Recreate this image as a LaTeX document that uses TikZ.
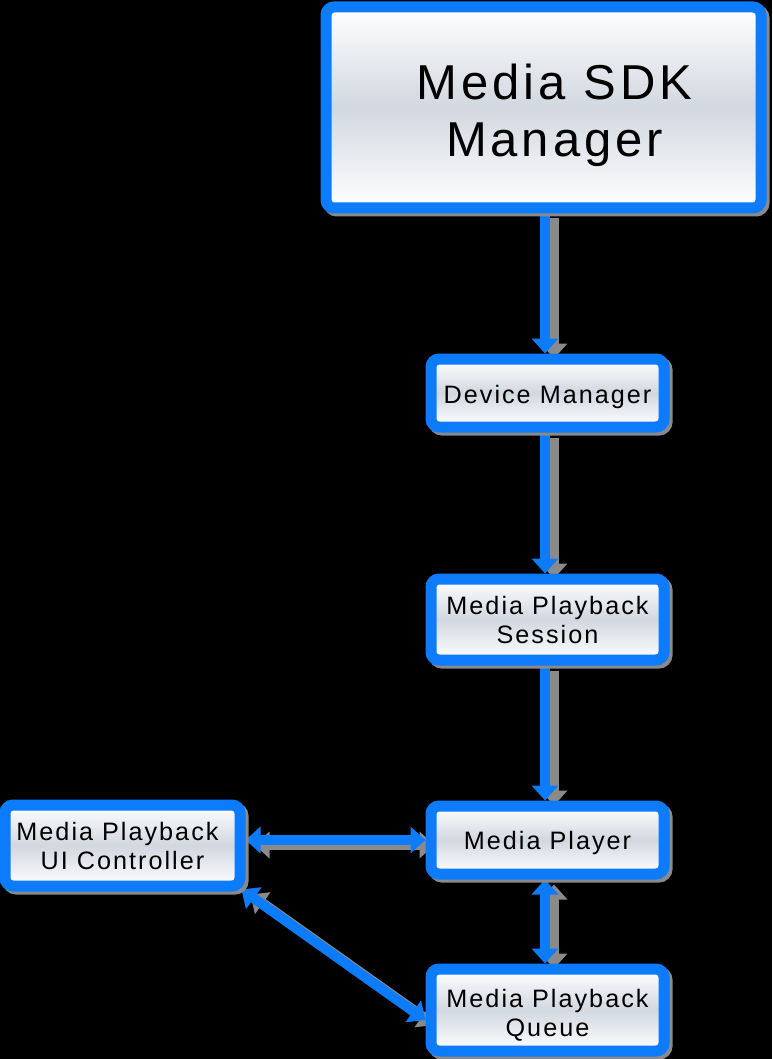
\documentclass[tikz,border=0pt]{standalone}
\usepackage{fontspec}
\setmainfont{Liberation Sans}[LetterSpace=8]
\usetikzlibrary{arrows.meta,positioning,shadows}
\definecolor{linkblue}{RGB}{12,124,252}
\definecolor{shadegray}{RGB}{210,216,224}
\definecolor{shadowgray}{RGB}{138,138,138}
\newcommand{\boxsize}{\fontsize{25.2}{29}\selectfont}
\newcommand{\topsize}{\fontsize{49}{57}\selectfont}
\pgfdeclarelayer{bglayer}
\pgfdeclarelayer{edgelayer}
\pgfsetlayers{bglayer,edgelayer,main}
\tikzset{
  box/.style={draw=linkblue, line width=11pt, rounded corners=8pt,
    top color=white, bottom color=white, middle color=shadegray,
    general shadow={draw=shadowgray, fill=shadowgray, line width=11pt,
      shadow xshift=3pt, shadow yshift=-3pt},
    text=black, align=center, font=\boxsize, inner sep=0pt,
    minimum width=233pt},
  oneline/.style={text height=#1, text depth=0pt},
  link/.style={line width=10pt, draw=linkblue},
  linkshadow/.style={line width=10pt, draw=shadowgray,
    transform canvas={shift={(9pt,-5pt)}}},
  fwd/.style={-{Triangle[width=26pt,length=15pt]}},
  both/.style={{Triangle[width=26pt,length=15pt]}-{Triangle[width=26pt,length=15pt]}},
}
\begin{document}
\begin{tikzpicture}[x=1pt,y=-1pt]
\begin{pgfonlayer}{bglayer}
\fill[black] (0,0) rectangle (772,1059);
\end{pgfonlayer}
\useasboundingbox (0,0) rectangle (772,1059);
% boxes
\node[box, font=\topsize, minimum width=435pt, minimum height=201pt] (sdk) at (543.5,107.5) {\rule{0pt}{52pt}\hspace*{22pt}Media SDK\\\hspace*{22pt}Manager};
\node[box, oneline=20pt, minimum height=68pt] (device) at (547.5,393) {Device Manager};
\node[box, minimum height=81pt] (session) at (547.5,619.5) {Media Playback\\Session};
\node[box, oneline=19pt, minimum height=68pt] (player) at (547.5,840) {Media Player};
\node[box, minimum height=82pt] (queue) at (547.5,1010) {\rule{0pt}{28pt}Media Playback\\Queue};
\node[box, minimum width=235pt, minimum height=81pt] (uictrl) at (122.5,845.5) {\hspace*{-10pt}Media Playback\\UI Controller};
% connectors
\begin{pgfonlayer}{edgelayer}
\foreach \style in {linkshadow,link}{
  \draw[\style, fwd] ([xshift=1.5pt]sdk.south) -- ([xshift=-2.5pt]device.north);
  \draw[\style, fwd] ([xshift=-2.5pt]device.south) -- ([xshift=-2.5pt]session.north);
  \draw[\style, fwd] ([xshift=-2.5pt]session.south) -- ([xshift=-2.5pt]player.north);
  \draw[\style, both] ([xshift=-2.5pt]player.south) -- ([xshift=-2.5pt]queue.north);
  \draw[\style, both] (player.west -| uictrl.east) -- (player.west);
  \draw[\style, both] ([xshift=-4pt,yshift=2pt]uictrl.south east) -- ([yshift=-10pt]queue.west);
}
\end{pgfonlayer}
\end{tikzpicture}
\end{document}
